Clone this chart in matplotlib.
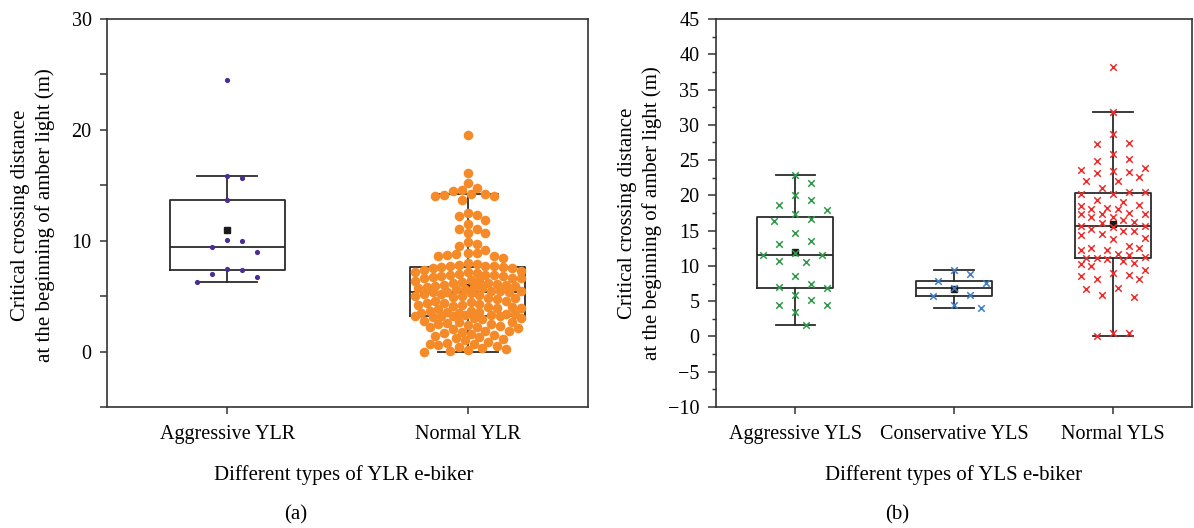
import numpy as np
import matplotlib
matplotlib.use("Agg")
import matplotlib.pyplot as plt

plt.rcParams['font.family'] = ['Liberation Serif', 'DejaVu Serif']

# ---- data ----
ylr_labels = ['Aggressive YLR', 'Normal YLR']
aggressive_ylr = [24.5, 15.7, 15.8, 13.7, 9.97, 10.1, 9.4, 9.0, 7.45, 7.4, 6.7, 7.0, 6.3]
normal_ylr = [19.5, 16.1, 15.25, 14.8, 14.6, 14.5, 14.25, 14.2, 14.1, 14.0, 14.0, 13.7,
              12.5, 12.3, 12.25, 11.9, 11.5, 11.1, 11.05, 10.7, 10.7, 9.85, 9.7, 9.55,
              9.2, 8.9, 8.9, 8.8, 8.75, 8.65, 8.6, 8.45, 8.0, 7.9, 7.8, 7.75, 7.7, 7.7, 7.65,
              7.6, 7.5, 7.5, 7.4, 7.3, 7.2, 7.2, 7.1, 7.0, 6.9, 6.9, 6.9, 6.8, 6.8, 6.7,
              6.6, 6.6, 6.6, 6.5, 6.4, 6.4, 6.3, 6.2, 6.2, 6.1, 6.0, 6.0, 5.9, 5.9, 5.8,
              5.8, 5.7, 5.7, 5.6, 5.6, 5.5, 5.5, 5.45, 5.4, 5.38,
              5.35, 5.3, 5.2, 5.2, 5.1, 5.0, 5.0, 4.9, 4.8, 4.8, 4.7, 4.6, 4.6, 4.5,
              4.4, 4.4, 4.3, 4.2, 4.2, 4.1, 4.0, 4.0, 3.9, 3.9, 3.8, 3.7, 3.7, 3.6, 3.6,
              3.5, 3.5, 3.4, 3.4, 3.3, 3.3, 3.25, 3.2, 3.2, 3.2,
              3.1, 3.0, 3.0, 2.9, 2.8, 2.7, 2.7, 2.6, 2.5, 2.5, 2.4, 2.3, 2.2, 2.2, 2.1,
              2.0, 1.9, 1.9, 1.8, 1.7, 1.6, 1.5, 1.4, 1.3, 1.2, 1.1, 1.0, 0.9, 0.8, 0.7,
              0.7, 0.6, 0.5, 0.4, 0.3, 0.2, 0.1, 0.05, 0.0]

yls_labels = ['Aggressive YLS', 'Conservative YLS', 'Normal YLS']
aggressive_yls = [22.9, 21.7, 20.0, 19.4, 18.6, 17.9, 17.4, 16.6, 16.4, 14.6, 13.6, 13.1,
                  11.5, 11.5, 11.9, 10.5, 10.7, 8.5, 7.5, 7.0, 6.8, 5.9, 5.2, 4.4, 4.5,
                  3.4, 1.65]
conservative_yls = [8.8, 9.4, 7.6, 7.9, 6.9, 5.9, 5.7, 4.5, 4.0]
normal_yls = [38.2, 31.75, 28.7, 27.4, 27.25, 25.8, 24.9, 25.1, 23.9, 23.4, 23.6, 23.3,
              23.1, 22.6, 22.1, 22.1, 21.05, 20.5, 20.25, 20.5, 20.2, 19.3, 19.1, 18.7,
              18.5, 18.2, 18.1, 18.0, 17.55, 17.4, 17.3, 17.4, 17.0, 16.9, 16.1, 16.2,
              16.5, 15.7, 15.6, 15.5, 15.2, 15.0, 15.0, 14.5, 14.4, 14.0, 13.8, 12.8, 12.5,
              12.5, 12.25, 12.25, 11.7, 11.5, 11.1, 11.07, 11.25, 10.97, 10.7, 10.45,
              10.2, 9.93, 9.36, 8.94, 8.75, 8.56, 8.1, 8.1, 6.8, 6.7, 5.9, 5.6, 0.42,
              0.42, 0.04]

box_col = '#2b2b2b'


def swarm(values, ax, gap, max_px):
    # simple beeswarm: returns x offsets (data units)
    bb = ax.bbox
    x0, x1 = ax.get_xlim()
    y0, y1 = ax.get_ylim()
    ppx = bb.width / (x1 - x0)
    ppy = bb.height / (y1 - y0)
    vals = np.asarray(values, float)
    step = gap / 3.0
    cands = [0.0]
    k = 1
    while k * step <= max_px:
        cands += [k * step, -k * step]
        k += 1
    placed = []
    out = np.zeros(len(vals))
    for i in np.argsort(-vals, kind='stable'):
        y = vals[i] * ppy
        best, bestc, bestd = None, 0.0, -1
        for c in cands:
            if placed:
                p = np.array(placed)
                d = np.hypot(p[:, 0] - c, p[:, 1] - y).min()
            else:
                d = np.inf
            if d >= gap:
                best = c
                break
            if d > bestd:
                bestd, bestc = d, c
        if best is None:
            best = bestc
        placed.append((best, y))
        out[i] = best / ppx
    return out


def draw_boxes(ax, groups, mean_size):
    ax.boxplot(groups, positions=np.arange(1, len(groups) + 1), widths=0.48,
               showfliers=False, showmeans=True, capwidths=0.25,
               boxprops=dict(color=box_col, linewidth=1.3),
               whiskerprops=dict(color=box_col, linewidth=1.3),
               capprops=dict(color=box_col, linewidth=1.3),
               medianprops=dict(color=box_col, linewidth=1.3),
               meanprops=dict(marker='s', markerfacecolor='#1a1a1a',
                              markeredgecolor='#1a1a1a', markersize=mean_size),
               zorder=2)


def style_axis(ax):
    for s in ax.spines.values():
        s.set_linewidth(1.2)
        s.set_color('#333333')
    ax.tick_params(axis='both', direction='out', length=5, width=1.1,
                   color='#333333', labelsize=14.5, top=False, right=False)
    ax.tick_params(axis='y', pad=6)
    ax.tick_params(axis='x', pad=8)


fig = plt.figure(figsize=(11.94, 5.28), dpi=100)
W, H = 1194.0, 528.0

# ---------- (a) ----------
ax1 = fig.add_axes([107 / W, 1 - 407 / H, 481 / W, 388 / H])
ax1.set_xlim(0.5, 2.5)
ax1.set_ylim(-5, 30)
draw_boxes(ax1, [aggressive_ylr, normal_ylr], 4.2)
off_a = swarm(aggressive_ylr, ax1, 15, 46)
off_n = swarm(normal_ylr, ax1, 8.8, 53)
ax1.scatter(1 + off_a, aggressive_ylr, s=14, color='#4b2c91', zorder=3, linewidths=0)
ax1.scatter(2 + off_n, normal_ylr, s=48, color='#f58a28', zorder=3, linewidths=0)
ax1.set_xticks([1, 2])
ax1.set_xticklabels(ylr_labels)
ax1.set_yticks([0, 10, 20, 30])
ax1.set_yticks([-5, 5, 15, 25], minor=True)
style_axis(ax1)
ax1.tick_params(axis='y', which='minor', direction='out', length=5, width=1.1, color='#333333')
ax1.set_xlim(0.5, 2.5)

# ---------- (b) ----------
ax2 = fig.add_axes([716 / W, 1 - 407 / H, 476 / W, 388 / H])
ax2.set_xlim(0.5, 3.5)
ax2.set_ylim(-10, 45)
draw_boxes(ax2, [aggressive_yls, conservative_yls, normal_yls], 3.8)
cross_cols = ['#2e9a48', '#3d7cc9', '#ee2b2b']
for i, (vals, mx) in enumerate(zip([aggressive_yls, conservative_yls, normal_yls],
                                   [33, 32, 35])):
    offs = swarm(vals, ax2, 16, mx)
    ax2.scatter(i + 1 + offs, vals, marker='x', s=22,
                color=cross_cols[i], linewidths=1.1, zorder=3)
ax2.set_xticks([1, 2, 3])
ax2.set_xticklabels(yls_labels)
ax2.set_yticks(np.arange(-10, 46, 5))
ax2.set_yticks(np.arange(-7.5, 45, 5), minor=True)
style_axis(ax2)
ax2.tick_params(axis='y', which='major', length=6)
ax2.tick_params(axis='y', which='minor', direction='out', length=3, width=1.0, color='#333333')
ax2.set_xlim(0.5, 3.5)

ylab = 'Critical crossing distance\nat the beginning of amber light (m)'
fig.text(33 / W, 1 - 215 / H, ylab, rotation=90, ha='center', va='center',
         multialignment='center', fontsize=15, linespacing=1.3)
fig.text(640 / W, 1 - 213 / H, ylab, rotation=90, ha='center', va='center',
         multialignment='center', fontsize=15, linespacing=1.3)
fig.text(344 / W, 1 - 475 / H, 'Different types of YLR e-biker', ha='center', va='center', fontsize=15)
fig.text(954 / W, 1 - 475 / H, 'Different types of YLS e-biker', ha='center', va='center', fontsize=15)
fig.text(296 / W, 1 - 515 / H, '(a)', ha='center', va='center', fontsize=15)
fig.text(897 / W, 1 - 515 / H, '(b)', ha='center', va='center', fontsize=15)

fig.savefig('out.png', dpi=100)
